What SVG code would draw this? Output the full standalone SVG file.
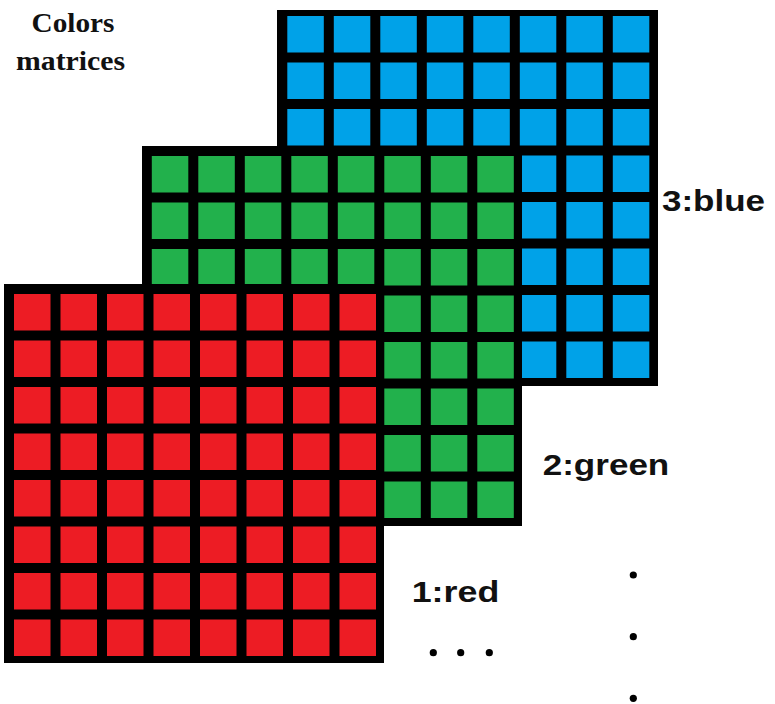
<svg xmlns="http://www.w3.org/2000/svg" width="775" height="704" viewBox="0 0 775 704">
  <style>
    .frame { fill: #000000; }
    .lbl { font-family: "Liberation Sans", Arial, sans-serif; font-weight: bold; font-size: 29px; fill: #111111; }
    .title { font-family: "Liberation Serif", "Times New Roman", serif; font-weight: bold; font-size: 28px; fill: #111111; }
    .dot { fill: #000000; }
  </style>
  <defs>
    <g id="row">
      <rect x="0" y="0" width="36.5" height="36.5"/>
      <rect x="46.5" y="0" width="36.5" height="36.5"/>
      <rect x="93" y="0" width="36.5" height="36.5"/>
      <rect x="139.5" y="0" width="36.5" height="36.5"/>
      <rect x="186" y="0" width="36.5" height="36.5"/>
      <rect x="232.5" y="0" width="36.5" height="36.5"/>
      <rect x="279" y="0" width="36.5" height="36.5"/>
      <rect x="325.5" y="0" width="36.5" height="36.5"/>
    </g>
    <g id="cells">
      <use href="#row" y="0"/>
      <use href="#row" y="46.5"/>
      <use href="#row" y="93"/>
      <use href="#row" y="139.5"/>
      <use href="#row" y="186"/>
      <use href="#row" y="232.5"/>
      <use href="#row" y="279"/>
      <use href="#row" y="325.5"/>
    </g>
  </defs>
  <rect width="775" height="704" fill="#ffffff"/>

  <g id="title">
    <text class="title" x="31.5" y="31.5" textLength="83" lengthAdjust="spacingAndGlyphs">Colors</text>
    <text class="title" x="16" y="70" textLength="109" lengthAdjust="spacingAndGlyphs">matrices</text>
  </g>

  <g id="matrix-blue">
    <rect class="frame" x="277" y="10" width="381" height="376"/>
    <use href="#cells" x="287.3" y="16" fill="#00A2E8"/>
  </g>

  <g id="matrix-green">
    <rect class="frame" x="142" y="146" width="380" height="380"/>
    <use href="#cells" x="151.8" y="156" fill="#22B14C"/>
  </g>

  <g id="matrix-red">
    <rect class="frame" x="4" y="284" width="380" height="379"/>
    <use href="#cells" x="14" y="294" fill="#ED1C24"/>
  </g>

  <g id="label-blue">
    <text class="lbl" x="662" y="210.7" textLength="103" lengthAdjust="spacingAndGlyphs">3:blue</text>
  </g>
  <g id="label-green">
    <text class="lbl" x="542.7" y="475" textLength="126.6" lengthAdjust="spacingAndGlyphs">2:green</text>
  </g>
  <g id="label-red">
    <text class="lbl" x="411.7" y="601.7" textLength="87.6" lengthAdjust="spacingAndGlyphs">1:red</text>
  </g>

  <g id="ellipsis-horizontal">
    <circle class="dot" cx="433.3" cy="652.7" r="3.6"/>
    <circle class="dot" cx="460.7" cy="652.7" r="3.6"/>
    <circle class="dot" cx="489.3" cy="652.7" r="3.6"/>
  </g>
  <g id="ellipsis-vertical">
    <circle class="dot" cx="633.3" cy="575" r="3.6"/>
    <circle class="dot" cx="633.3" cy="636.7" r="3.6"/>
    <circle class="dot" cx="633.3" cy="698.3" r="3.6"/>
  </g>
</svg>
